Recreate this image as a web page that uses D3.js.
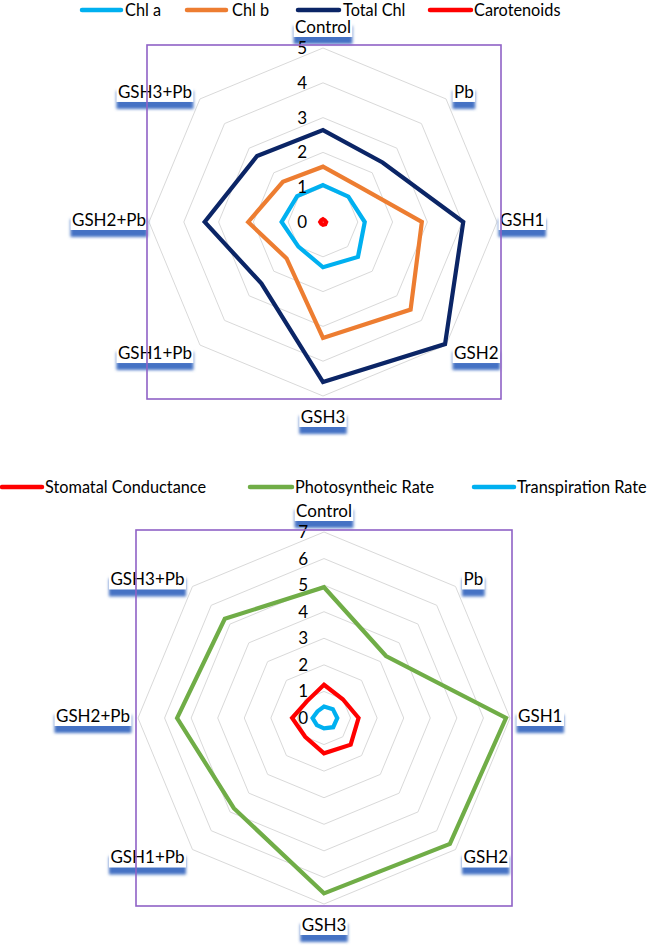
<!DOCTYPE html>
<html><head><meta charset="utf-8">
<script src="https://cdn.jsdelivr.net/npm/d3@7/dist/d3.min.js"></script>
<style>
html,body{margin:0;padding:0;background:#fff;}
svg{display:block;font-family:Lato,"Open Sans",sans-serif;}
</style></head>
<body>
<svg id="c" width="648" height="948"></svg>
<script>
// ---------- data ----------
const categories = ["Control","Pb","GSH1","GSH2","GSH3","GSH1+Pb","GSH2+Pb","GSH3+Pb"];

const chlA        = [1.06, 1.03, 1.20, 1.42, 1.30, 1.00, 1.19, 1.05];
const chlB        = [1.59, 1.45, 2.84, 3.56, 3.33, 1.48, 2.15, 1.63];
const totalChl    = [2.64, 2.42, 4.03, 4.96, 4.60, 2.50, 3.40, 2.68];
const carotenoids = [0.08, 0.07, 0.09, 0.09, 0.08, 0.07, 0.08, 0.07];
const ticksTop    = [0, 1, 2, 3, 4, 5];

const stomatal    = [1.25, 1.00, 1.30, 1.42, 1.33, 1.00, 1.20, 0.90];
const photo       = [4.92, 3.30, 6.85, 6.70, 6.60, 4.80, 5.53, 5.28];
const transp      = [0.43, 0.47, 0.50, 0.49, 0.39, 0.38, 0.43, 0.35];
const ticksBottom = [0, 1, 2, 3, 4, 5, 6, 7];

const seriesTop = [
  {name:"Chl a", values:chlA, color:"#00B0F0"},
  {name:"Chl b", values:chlB, color:"#ED7D31"},
  {name:"Total Chl", values:totalChl, color:"#0B2566"},
  {name:"Carotenoids", values:carotenoids, color:"#FF0000"}
];
const seriesBottom = [
  {name:"Stomatal Conductance", values:stomatal, color:"#FF0000"},
  {name:"Photosyntheic Rate", values:photo, color:"#70AD47"},
  {name:"Transpiration Rate", values:transp, color:"#00B0F0"}
];

const svg = d3.select("#c");
const FS = 17;
const LFS = 16.3;

const defs = svg.append("defs");
defs.append("filter").attr("id","blur").attr("x","-30%").attr("y","-80%").attr("width","160%").attr("height","260%")
  .append("feGaussianBlur").attr("stdDeviation",1.8);

function legend(items, y, lineXs, textXs){
  const g = svg.append("g");
  items.forEach((s,i)=>{
    g.append("line").attr("x1",lineXs[i][0]).attr("x2",lineXs[i][1]).attr("y1",y).attr("y2",y)
      .attr("stroke",s.color).attr("stroke-width",4.5).attr("stroke-linecap","round");
    g.append("text").attr("x",textXs[i]).attr("y",y).attr("dy","0.35em")
      .attr("font-size",LFS).attr("fill","#000").text(s.name);
  });
}

function radar(cfg){
  const {cx, cy, R, max, series, ticks, box, hOff} = cfg;
  const g = svg.append("g").attr("transform",`translate(${cx},${cy})`);
  const r = d3.scaleLinear().domain([0,max]).range([0,R]);
  const ang = d3.scalePoint().domain(categories).range([0, 2*Math.PI*(categories.length-1)/categories.length]);
  const line = d3.lineRadial().angle(d=>ang(d.c)).radius(d=>r(d.v)).curve(d3.curveLinearClosed);

  // grid rings
  ticks.filter(t=>t>0).forEach(t=>{
    g.append("path").attr("d", line(categories.map(c=>({c, v:t}))))
      .attr("fill","none").attr("stroke","#D9D9D9").attr("stroke-width",1);
  });

  // series
  series.forEach(s=>{
    g.append("path").attr("d", line(categories.map((c,i)=>({c, v:s.values[i]}))))
      .attr("fill","none").attr("stroke",s.color).attr("stroke-width",4.2)
      .attr("stroke-linejoin","miter");
  });

  // category labels
  categories.forEach(c=>{
    const a = ang(c);
    const vx = Math.sin(a)*R, vy = -Math.cos(a)*R;
    let x=vx, y=vy, anchor="middle";
    const sx = Math.round(Math.sin(a)*1000)/1000, sy = Math.round(-Math.cos(a)*1000)/1000;
    if (sx===0){
      y = sy<0 ? vy-21 : vy+21;
    } else {
      anchor = sx>0 ? "start" : "end";
      const off = sy===0 ? hOff : 8;
      x = vx + (sx>0 ? off : -off);
      y = vy + (sy<0 ? -7 : sy>0 ? 8 : -2);
    }
    const lg = g.append("g");
    const shadow = lg.append("rect");
    const bg = lg.append("rect");
    const t = lg.append("text").attr("x",x).attr("y",y).attr("dy","0.35em")
      .attr("text-anchor",anchor).attr("font-size",FS).attr("fill","#000").text(c);
    const bb = t.node().getBBox();
    const bx = bb.x-1.5, bw = bb.width+3, by = y-10, bh = 20;
    shadow.attr("x",bx).attr("y",by+9).attr("width",bw).attr("height",bh-2)
      .attr("fill","#4472C4").attr("filter","url(#blur)");
    bg.attr("x",bx).attr("y",by).attr("width",bw).attr("height",bh).attr("fill","#fff");
  });

  // plot-area box
  svg.append("rect").attr("x",box[0]).attr("y",box[1]).attr("width",box[2]-box[0]).attr("height",box[3]-box[1])
    .attr("fill","none").attr("stroke","#8F62C6").attr("stroke-width",1.6);

  // tick labels
  ticks.forEach(t=>{
    g.append("text").attr("x",-16).attr("y",-r(t)).attr("dy","0.35em")
      .attr("text-anchor","end").attr("font-size",FS).attr("fill","#000").text(t);
  });
}

legend(seriesTop, 10, [[82,121],[187,226],[298,339],[430,471]], [125,232,343,474]);
radar({cx:323, cy:222, R:174, max:5, series:seriesTop, ticks:ticksTop, box:[147,45,501,399], hOff:3});

legend(seriesBottom, 487, [[2,42],[250,292],[474,514]], [45,295,517]);
radar({cx:324, cy:718, R:186, max:7, series:seriesBottom, ticks:ticksBottom, box:[136,530,512,906], hOff:8});
</script>
</body></html>
